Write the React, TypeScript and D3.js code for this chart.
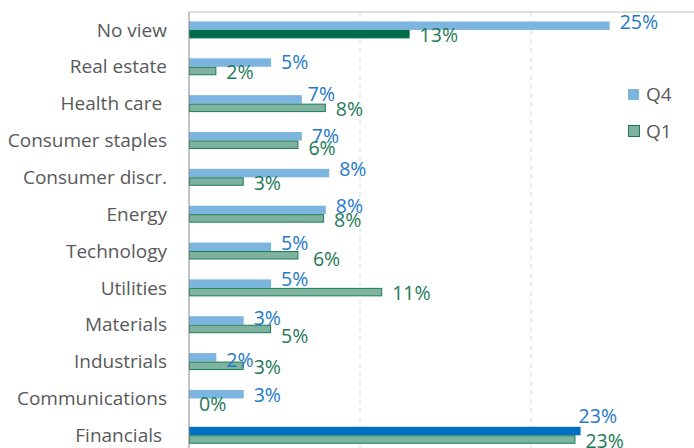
import React from "react";
import * as d3 from "d3";

const categories = [
  "No view",
  "Real estate",
  "Health care ",
  "Consumer staples",
  "Consumer discr.",
  "Energy",
  "Technology",
  "Utilities",
  "Materials",
  "Industrials",
  "Communications",
  "Financials ",
];
const seriesNames = ["Q4", "Q1"];
const q4Values = [24.6, 4.8, 6.6, 6.6, 8.2, 8.0, 4.8, 4.8, 3.2, 1.6, 3.2, 22.9];
const q1Values = [12.9, 1.6, 8.0, 6.4, 3.2, 7.9, 6.4, 11.3, 4.8, 3.2, 0, 22.6];
const gridTicks = [10, 20, 30];
// categories whose bar is drawn in the strong colour
const q4Highlight = "Financials ";
const q1Highlight = "No view";

// hand-moved data labels in the original (dx, dy in px)
const labelNudges: Record<string, [number, number]> = {
  "Q4|Financials ": [-12, -11],
  "Q4|Health care ": [-4, -1],
  "Q4|Consumer staples": [0, 3.5],
  "Q4|Real estate": [0, 4],
  "Q4|Industrials": [0, 6.5],
  "Q4|Communications": [0, 4.5],
  "Q4|Materials": [0, 1.5],
  "Q1|Materials": [0, 5.5],
  "Q1|Technology": [4.5, 2.5],
  "Q1|Consumer staples": [0, 1.5],
};

const W = 694;
const H = 448;
const FONT = "'Open Sans', sans-serif";

export default function App() {
  const x = d3.scaleLinear().domain([0, 30]).range([189, 702]);
  const y = d3
    .scaleBand<string>()
    .domain(categories)
    .range([11.5, 11.5 + categories.length * 36.85])
    .paddingInner(0.54)
    .paddingOuter(0.27);
  const sub = d3.scaleBand<string>().domain(seriesNames).range([0, y.bandwidth()]);
  const fmt = (v: number) => d3.format(".0f")(v) + "%";
  const nudge = (s: string, c: string) => labelNudges[s + "|" + c] || [0, 0];

  const rows = categories.map((c, i) => ({ c, q4: q4Values[i], q1: q1Values[i] }));

  return (
    <svg width={W} height={H} style={{ position: "absolute", left: 0, top: 0, background: "#fff" }}>
      {/* grid */}
      {gridTicks.map((t) => (
        <line key={t} x1={x(t)} x2={x(t)} y1={12} y2={H} stroke="#D9D9D9" strokeDasharray="5,4" />
      ))}
      <line x1={189} x2={W} y1={12} y2={12} stroke="#BFBFBF" />

      {rows.map((d) => {
        const y0 = y(d.c)!;
        const yq4 = y0 + sub("Q4")!;
        const yq1 = y0 + sub("Q1")!;
        const h = sub.bandwidth();
        const hiQ4 = d.c === q4Highlight;
        const hiQ1 = d.c === q1Highlight;
        const n4 = nudge("Q4", d.c);
        const n1 = nudge("Q1", d.c);
        return (
          <g key={d.c}>
            <rect x={x(0)} y={yq4} width={x(d.q4) - x(0)} height={h} fill={hiQ4 ? "#0070C0" : "#7DB5E1"} />
            {d.q1 > 0 && (
              <rect
                x={x(0) + 0.5}
                y={yq1 + 0.5}
                width={x(d.q1) - x(0) - 1}
                height={h - 1}
                fill={hiQ1 ? "#006B4A" : "#7DB39F"}
                stroke={hiQ1 ? "#006B4A" : "#1E7A56"}
              />
            )}
            <text
              x={x(d.q4) + 10 + n4[0]}
              y={yq4 + h / 2 - 4 + n4[1]}
              dy="0.35em"
              fontFamily={FONT}
              fontSize={19.5}
              fill="#2379C8"
            >
              {fmt(d.q4)}
            </text>
            <text
              x={x(d.q1) + 10 + n1[0]}
              y={yq1 + h / 2 + 1.5 + n1[1]}
              dy="0.35em"
              fontFamily={FONT}
              fontSize={19.5}
              fill="#1E7A56"
            >
              {fmt(d.q1)}
            </text>
            <text
              x={167}
              y={y0 + y.bandwidth() / 2}
              dy="0.35em"
              textAnchor="end"
              fontFamily={FONT}
              fontSize={19}
              fill="#595959"
              style={{ whiteSpace: "pre" }}
            >
              {d.c}
            </text>
          </g>
        );
      })}

      <line x1={189} x2={189} y1={12} y2={H} stroke="#868686" />

      {/* legend */}
      <rect x={628} y={89} width={11} height={11} fill="#7DB5E1" />
      <text x={646} y={94.5} dy="0.35em" fontFamily={FONT} fontSize={19} fill="#595959">
        Q4
      </text>
      <rect x={628.5} y={125.5} width={11} height={11} fill="#7DB39F" stroke="#1E7A56" />
      <text x={646} y={131} dy="0.35em" fontFamily={FONT} fontSize={19} fill="#595959">
        Q1
      </text>
    </svg>
  );
}
